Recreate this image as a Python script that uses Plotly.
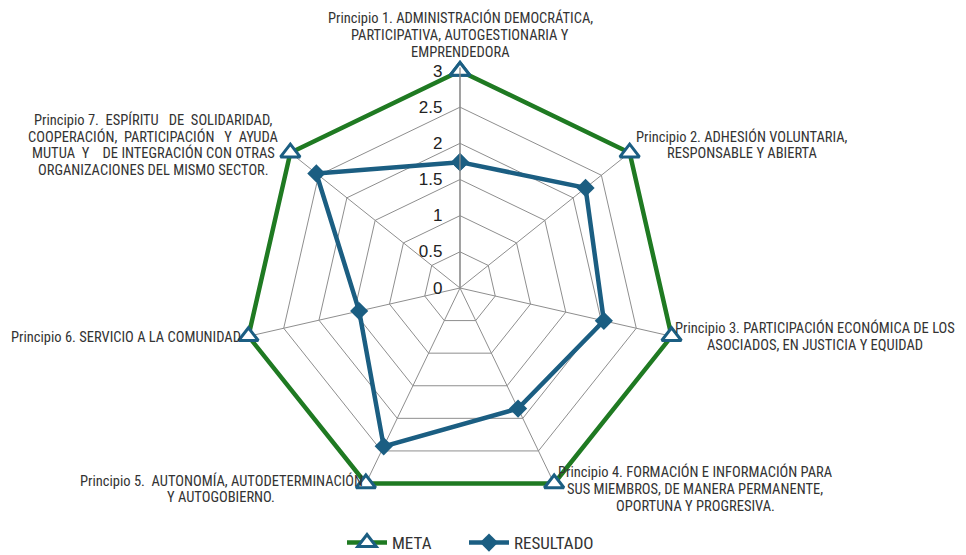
import plotly.graph_objects as go

categorias = [
    "Principio 1. ADMINISTRACIÓN DEMOCRÁTICA,<br>PARTICIPATIVA, AUTOGESTIONARIA Y<br>EMPRENDEDORA",
    "Principio 2. ADHESIÓN VOLUNTARIA,<br>RESPONSABLE Y ABIERTA",
    "Principio 3. PARTICIPACIÓN ECONÓMICA DE LOS<br>ASOCIADOS, EN JUSTICIA Y EQUIDAD",
    "Principio 4. FORMACIÓN E INFORMACIÓN PARA<br>SUS MIEMBROS, DE MANERA PERMANENTE,<br>OPORTUNA Y PROGRESIVA.",
    "Principio 5.  AUTONOMÍA, AUTODETERMINACIÓN<br>Y AUTOGOBIERNO.",
    "Principio 6. SERVICIO A LA COMUNIDAD",
    "Principio 7.  ESPÍRITU   DE  SOLIDARIDAD,<br>COOPERACIÓN,  PARTICIPACIÓN   Y  AYUDA<br>MUTUA  Y    DE INTEGRACIÓN CON OTRAS<br>ORGANIZACIONES DEL MISMO SECTOR.",
]
ids = ["P1", "P2", "P3", "P4", "P5", "P6", "P7"]
meta = [3, 3, 3, 3, 3, 3, 3]
resultado = [1.74, 2.22, 2.04, 1.85, 2.43, 1.43, 2.54]
ticks = [0, 0.5, 1, 1.5, 2, 2.5, 3]

# page body has an 8px margin: work in window pixels, convert to figure pixels
OFF = 8
WIN_W, WIN_H = 966, 555
W, H = WIN_W - 2 * OFF, WIN_H - OFF
RMAX = 3.05                      # a little headroom so the META line is not clipped
cx, cy = 460 - OFF, 288 - OFF
R = 217 * RMAX / 3

GREEN = "#1f7a22"
BLUE = "#1b5e82"
GRID = "#8e8e8e"
FONT = "Liberation Sans Narrow, Roboto Condensed, Liberation Sans, sans-serif"

theta = ids + [ids[0]]
fig = go.Figure()
fig.add_trace(go.Scatterpolar(
    r=meta + [meta[0]], theta=theta, name="META", mode="lines+markers",
    cliponaxis=False, legend="legend",
    line=dict(color=GREEN, width=4.5),
    marker=dict(symbol="triangle-up", size=17, color="white",
                line=dict(color=BLUE, width=3)),
))
fig.add_trace(go.Scatterpolar(
    r=resultado + [resultado[0]], theta=theta, name="RESULTADO", mode="lines+markers",
    cliponaxis=False, legend="legend2",
    line=dict(color=BLUE, width=4.5),
    marker=dict(symbol="diamond", size=14, color=BLUE),
))

# window-pixel centre of each label line: (x, first line y, line step)
label_pos = [
    (460, 18, 17),
    (742, 137, 16.5),
    (815, 328, 17),
    (695, 472, 17),
    (221, 481, 16.5),
    (126, 337, 17),
    (153, 120, 16.7),
]
annotations = []
for txt, (x, y0, step) in zip(categorias, label_pos):
    for i, line in enumerate(txt.split("<br>")):
        y = y0 + i * step
        annotations.append(dict(
            text=line, x=(x - OFF) / W, y=1 - (y - OFF) / H,
            xref="paper", yref="paper",
            xanchor="center", yanchor="middle", align="center", showarrow=False,
            font=dict(family=FONT, size=14.5, color="#333333"),
        ))

legend_font = dict(family=FONT, size=17, color="#333333")
fig.update_layout(
    width=W, height=H,
    margin=dict(l=0, r=0, t=0, b=0, autoexpand=False),
    paper_bgcolor="white",
    font=dict(family=FONT, color="#333333"),
    polar=dict(
        domain=dict(x=[(cx - R) / W, (cx + R) / W],
                    y=[(H - cy - R) / H, (H - cy + R) / H]),
        gridshape="linear",
        bgcolor="white",
        radialaxis=dict(
            range=[0, RMAX], tickvals=ticks, ticktext=[str(t) for t in ticks],
            angle=90, tickangle=90, side="counterclockwise",
            showline=True, linecolor=GRID, linewidth=1.3,
            gridcolor=GRID, gridwidth=1.3,
            ticks="outside", ticklen=11, tickcolor="rgba(0,0,0,0)",
            tickfont=dict(family="Liberation Sans, Arial, sans-serif", size=17, color="#222222"),
        ),
        angularaxis=dict(
            direction="clockwise", rotation=90, categoryorder="array",
            categoryarray=ids, showticklabels=False, ticks="",
            showline=False, gridcolor=GRID, gridwidth=1.3,
        ),
    ),
    showlegend=True,
    legend=dict(orientation="h", x=(342 - OFF) / W, xanchor="left",
                y=1 - (543 - OFF) / H, yanchor="middle",
                font=legend_font, itemwidth=40),
    legend2=dict(orientation="h", x=(464 - OFF) / W, xanchor="left",
                 y=1 - (543 - OFF) / H, yanchor="middle",
                 font=legend_font, itemwidth=40),
    annotations=annotations,
)
fig.write_html("out.html")
